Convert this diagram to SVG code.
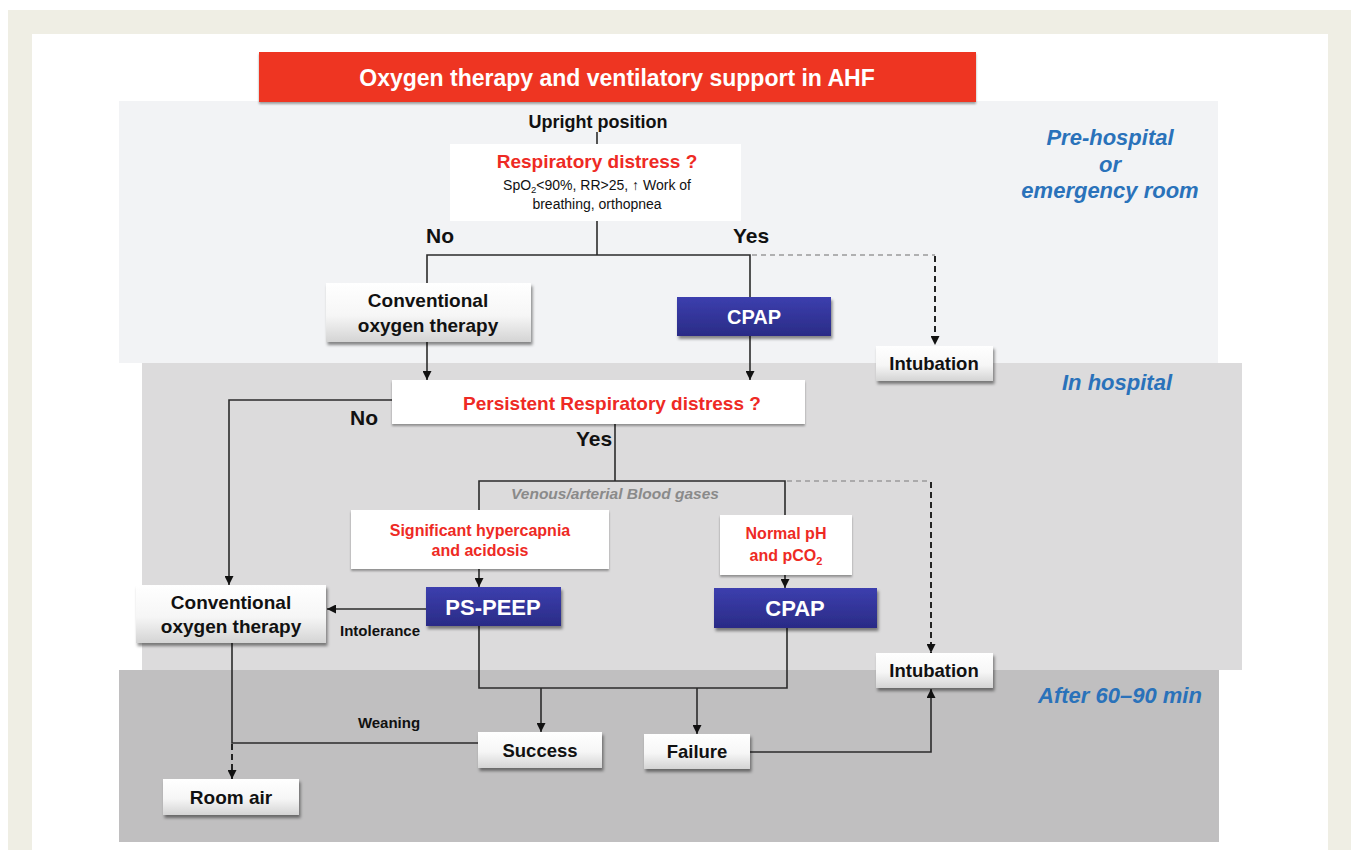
<svg xmlns="http://www.w3.org/2000/svg" width="1355" height="850" viewBox="0 0 1355 850">
<defs>
<style>
.t{font-family:"Liberation Sans",Arial,sans-serif;font-weight:bold;text-anchor:middle}
.blk{fill:#111}
.red{fill:#ee2a24}
.wt{fill:#fff}
.phase{font-family:"Liberation Sans",Arial,sans-serif;font-weight:bold;font-style:italic;fill:#2a72ba;font-size:22px;text-anchor:middle}
.ln{fill:none;stroke:#2b2b2b;stroke-width:1.6}
.dg{fill:none;stroke:#9a9a9a;stroke-width:1.4;stroke-dasharray:5 4}
.db{fill:none;stroke:#222;stroke-width:2;stroke-dasharray:6 4}
.wbox{fill:url(#gw);filter:url(#sh)}
.bbox{fill:url(#gb);filter:url(#sh)}
.plain{fill:#fff}
</style>
<linearGradient id="gw" x1="0" y1="0" x2="0" y2="1">
<stop offset="0" stop-color="#ffffff"/>
<stop offset="0.55" stop-color="#f6f6f6"/>
<stop offset="1" stop-color="#d4d4d4"/>
</linearGradient>
<linearGradient id="gb" x1="0" y1="0" x2="0" y2="1">
<stop offset="0" stop-color="#3c3fae"/>
<stop offset="1" stop-color="#2a2b86"/>
</linearGradient>
<filter id="sh" x="-10%" y="-20%" width="125%" height="150%">
<feDropShadow dx="1.5" dy="3" stdDeviation="1.8" flood-color="#000" flood-opacity="0.45"/>
</filter>
<filter id="sh2" x="-5%" y="-20%" width="110%" height="150%">
<feDropShadow dx="0" dy="2" stdDeviation="1.2" flood-color="#000" flood-opacity="0.35"/>
</filter>
<marker id="ar" viewBox="0 0 10 10" refX="10" refY="5" markerWidth="9" markerHeight="9" markerUnits="userSpaceOnUse" orient="auto">
<path d="M0,0 L10,5 L0,10 z" fill="#111"/>
</marker>
</defs>

<!-- frame -->
<rect x="0" y="0" width="1355" height="850" fill="#fff"/>
<rect x="8" y="10" width="1343" height="840" fill="#efeee4"/>
<rect x="32" y="34" width="1296" height="816" fill="#fff"/>

<!-- phase panels -->
<rect x="119" y="101" width="1099" height="262" fill="#f2f3f5"/>
<rect x="142" y="363" width="1100" height="307" fill="#dcdbdc"/>
<rect x="119" y="670" width="1100" height="172" fill="#c0bfc0"/>

<text class="phase" x="1110" y="145">Pre-hospital</text>
<text class="phase" x="1110" y="172">or</text>
<text class="phase" x="1110" y="198">emergency room</text>
<text class="phase" x="1117" y="390">In hospital</text>
<text class="phase" x="1120" y="703">After 60–90 min</text>

<!-- title -->
<g id="title">
<rect x="259" y="52" width="717" height="50" fill="#ee3524" filter="url(#sh2)"/>
<text class="t wt" x="617" y="86" font-size="23">Oxygen therapy and ventilatory support in AHF</text>
</g>

<!-- connectors -->
<g id="connectors">
<path class="ln" d="M597,132 V144"/>
<path class="ln" d="M597,221 V255"/>
<path class="ln" d="M427,283 V255 H750 V297"/>
<path class="dg" d="M752,255 H935"/>
<path class="db" d="M935,256 V345" marker-end="url(#ar)"/>
<path class="ln" d="M427,342 V380" marker-end="url(#ar)"/>
<path class="ln" d="M750,336 V380" marker-end="url(#ar)"/>
<path class="ln" d="M392,400 H229 V585" marker-end="url(#ar)"/>
<path class="ln" d="M615,424 V481"/>
<path class="ln" d="M479,510 V481 H785 V515"/>
<path class="dg" d="M787,481 H931"/>
<path class="db" d="M931,482 V653" marker-end="url(#ar)"/>
<path class="ln" d="M479,569 V587" marker-end="url(#ar)"/>
<path class="ln" d="M785,575 V588" marker-end="url(#ar)"/>
<path class="ln" d="M426,609 H327" marker-end="url(#ar)"/>
<path class="ln" d="M479,626 V688 H787 V628"/>
<path class="ln" d="M541,688 V732" marker-end="url(#ar)"/>
<path class="ln" d="M697,688 V734" marker-end="url(#ar)"/>
<path class="ln" d="M750,752 H931 V689" marker-end="url(#ar)"/>
<path class="ln" d="M232,643 V743 H478"/>
<path class="db" d="M232,744 V779" marker-end="url(#ar)"/>
<text class="t blk" x="598" y="128" font-size="18">Upright position</text>
<text class="t blk" x="440" y="243" font-size="21">No</text>
<text class="t blk" x="751" y="243" font-size="21">Yes</text>
<text class="t blk" x="364" y="425" font-size="21">No</text>
<text class="t blk" x="594" y="446" font-size="21">Yes</text>
<text x="615" y="499" font-family="Liberation Sans, Arial, sans-serif" font-weight="bold" font-style="italic" font-size="15.5" fill="#8a8a8a" text-anchor="middle">Venous/arterial Blood gases</text>
<text class="t blk" x="380" y="636" font-size="15">Intolerance</text>
<text class="t blk" x="389" y="728" font-size="15">Weaning</text>
</g>

<!-- nodes -->
<g id="resp-distress">
<rect class="plain" x="450" y="144" width="291" height="77"/>
<text class="t red" x="597" y="168" font-size="19">Respiratory distress ?</text>
<text class="t blk" x="597" y="190" font-size="14" style="font-weight:normal">SpO<tspan font-size="9.5" dy="3">2</tspan><tspan dy="-3">&lt;90%, RR&gt;25, ↑ Work of</tspan></text>
<text class="t blk" x="597" y="209" font-size="14" style="font-weight:normal">breathing, orthopnea</text>
</g>

<g id="conv1">
<rect class="wbox" x="326" y="283" width="205" height="59"/>
<text class="t blk" x="428" y="307" font-size="19">Conventional</text>
<text class="t blk" x="428" y="332" font-size="19">oxygen therapy</text>
</g>

<g id="cpap1">
<rect class="bbox" x="677" y="297" width="154" height="39"/>
<text class="t wt" x="754" y="324" font-size="20">CPAP</text>
</g>

<g id="intubation1">
<rect class="wbox" x="876" y="346" width="117" height="35"/>
<text class="t blk" x="934" y="370" font-size="18.5">Intubation</text>
</g>

<g id="persistent">
<rect class="plain" x="392" y="380" width="413" height="44" filter="url(#sh2)"/>
<text class="t red" x="612" y="410" font-size="19">Persistent Respiratory distress ?</text>
</g>

<g id="hypercapnia">
<rect class="plain" x="351" y="510" width="258" height="59" filter="url(#sh2)"/>
<text class="t red" x="480" y="536" font-size="16">Significant hypercapnia</text>
<text class="t red" x="480" y="556" font-size="16">and acidosis</text>
</g>

<g id="normal">
<rect class="plain" x="720" y="515" width="132" height="60" filter="url(#sh2)"/>
<text class="t red" x="786" y="539" font-size="16">Normal pH</text>
<text class="t red" x="786" y="561" font-size="16">and pCO<tspan font-size="11" dy="4">2</tspan></text>
</g>

<g id="conv2">
<rect class="wbox" x="136" y="585" width="190" height="58"/>
<text class="t blk" x="231" y="609" font-size="19">Conventional</text>
<text class="t blk" x="231" y="633" font-size="19">oxygen therapy</text>
</g>

<g id="pspeep">
<rect class="bbox" x="426" y="587" width="135" height="39"/>
<text class="t wt" x="493" y="615" font-size="22">PS-PEEP</text>
</g>

<g id="cpap2">
<rect class="bbox" x="714" y="588" width="163" height="40"/>
<text class="t wt" x="795" y="616" font-size="22">CPAP</text>
</g>

<g id="intubation2">
<rect class="wbox" x="876" y="653" width="117" height="35"/>
<text class="t blk" x="934" y="677" font-size="18.5">Intubation</text>
</g>

<g id="success">
<rect class="wbox" x="478" y="732" width="124" height="36"/>
<text class="t blk" x="540" y="757" font-size="18.5">Success</text>
</g>

<g id="failure">
<rect class="wbox" x="644" y="734" width="106" height="35"/>
<text class="t blk" x="697" y="758" font-size="18.5">Failure</text>
</g>

<g id="roomair">
<rect class="wbox" x="163" y="779" width="136" height="36"/>
<text class="t blk" x="231" y="804" font-size="19">Room air</text>
</g>
</svg>
